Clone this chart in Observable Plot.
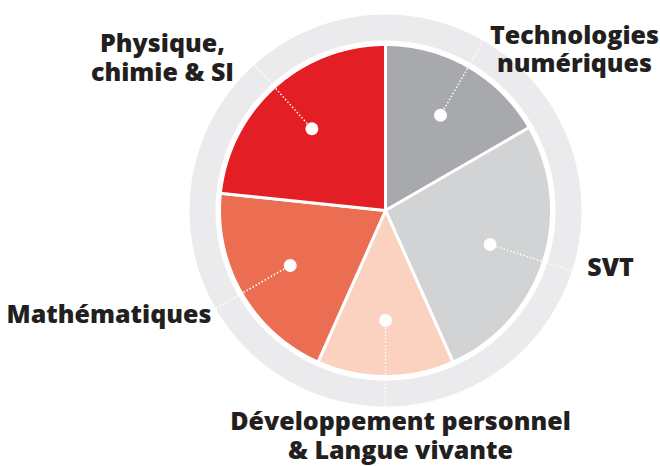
<!DOCTYPE html>
<html><head><meta charset="utf-8">
<script src="https://cdn.jsdelivr.net/npm/d3@7"></script>
<script src="https://cdn.jsdelivr.net/npm/@observablehq/plot@0.6"></script>
<style>html,body{margin:0;padding:0;background:#fff}</style>
</head><body><div id="chart"></div>
<script>
// ---- data ----
const subjects = ["Technologies\nnumériques", "SVT", "Développement personnel\n& Langue vivante", "Mathématiques", "Physique,\nchimie & SI"];
const hours = [5, 8, 4, 6, 7];
const colors = ["#a7a9ac", "#d1d3d4", "#fbd1c0", "#eb6e53", "#e31e25"];

// ---- layout ----
const W = 660, H = 466, cx = 385, cy = 210;
const R_PIE = 166, R_GAP = 170, R_RING = 196, R_DOT = 110;
const labelX = [574, 610, 400, 108.5, 162];     // label centres (px)
const labelY = [71.7, 275, 458, 322.5, 80];      // last-line baselines (px)

const rows = subjects.map((s, i) => ({subject: s, hours: hours[i]}));
const arcs = d3.pie().sort(null).value(d => d.hours)(rows);
const px = (r, a) => r * Math.sin(a);
const py = (r, a) => -r * Math.cos(a);

const slicePts = [];
arcs.forEach(a => {
  slicePts.push({subject: a.data.subject, x: 0, y: 0});
  const n = Math.ceil((a.endAngle - a.startAngle) / 0.005);
  for (let k = 0; k <= n; k++) {
    const t = a.startAngle + (a.endAngle - a.startAngle) * k / n;
    slicePts.push({subject: a.data.subject, x: px(R_PIE, t), y: py(R_PIE, t)});
  }
});
const circle = (r, id) => d3.range(0, 721).map(k => ({id, x: px(r, k * Math.PI / 360), y: py(r, k * Math.PI / 360)}));
const ring = circle(R_RING, "ring").concat(circle(R_GAP, "gap"));

const mids = arcs.map(a => ({subject: a.data.subject, a: (a.startAngle + a.endAngle) / 2}));
const labels = subjects.map((s, i) => ({text: s, x: labelX[i] - cx, y: labelY[i] - cy}));

const chart = Plot.plot({
  width: W, height: H,
  margin: 0,
  x: {domain: [-cx, W - cx], range: [0, W], axis: null},
  y: {domain: [-cy, H - cy], range: [0, H], axis: null},
  color: {domain: subjects, range: colors},
  style: {background: "#fff"},
  marks: [
    Plot.line(ring, {x: "x", y: "y", z: "id", fill: d => d.id === "ring" ? "#ebebed" : "#ffffff", stroke: null, curve: "linear-closed"}),
    Plot.line(slicePts, {x: "x", y: "y", z: "subject", fill: "subject", stroke: "#ffffff", strokeWidth: 3, strokeLinejoin: "round", curve: "linear-closed"}),
    Plot.link(mids, {x1: d => px(R_DOT + 7, d.a), y1: d => py(R_DOT + 7, d.a), x2: d => px(R_RING, d.a), y2: d => py(R_RING, d.a), stroke: "#ffffff", strokeWidth: 1.5, strokeDasharray: "1.5 2"}),
    Plot.dot(mids, {x: d => px(R_DOT, d.a), y: d => py(R_DOT, d.a), r: 6.5, fill: "#ffffff", stroke: null}),
    Plot.text(labels, {x: "x", y: "y", text: "text", fontSize: 25, fontWeight: 800, fontFamily: "'Open Sans', sans-serif", fill: "#231f20", lineAnchor: "bottom", lineHeight: 1.13, textAnchor: "middle"})
  ]
});
document.getElementById("chart").appendChild(chart);
</script>
</body></html>
